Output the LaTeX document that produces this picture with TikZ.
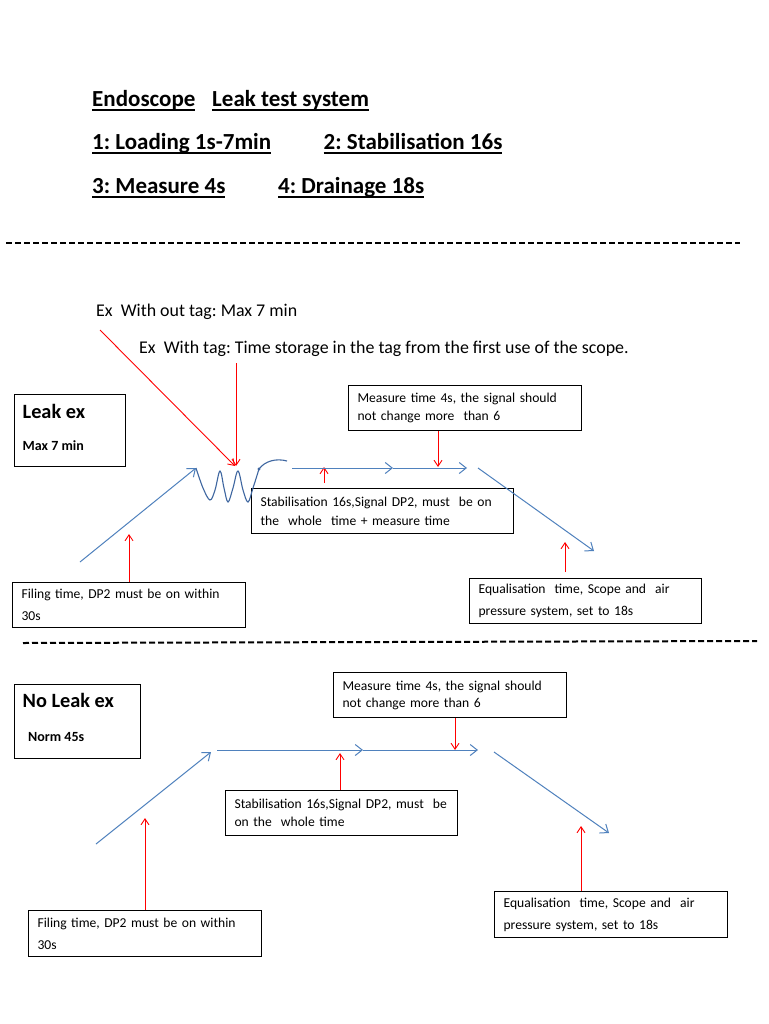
\documentclass[tikz,border=0pt]{standalone}
\usepackage{fontspec}
\setmainfont{Carlito}
\usetikzlibrary{arrows.meta,positioning,calc}
\definecolor{lineblue}{RGB}{79,129,189}
\definecolor{waveblue}{RGB}{62,102,160}
\frenchspacing
\newcommand{\headul}[1]{\setbox0\hbox{#1}\rlap{\rule[-4pt]{\wd0}{1.8pt}}\box0}
\tikzset{
	box/.style={draw=black, line width=1.1pt, anchor=north west, align=left, inner xsep=9pt, inner ysep=0pt, font=\fontsize{13.6}{18}\selectfont},
	redarrow/.style={draw=red, line width=0.9pt, -{Straight Barb[length=6pt,width=8pt]}},
	blueline/.style={draw=lineblue, line width=1pt, -{Straight Barb[length=7pt,width=11pt]}},
	dashline/.style={line width=2pt, dash pattern=on 6pt off 3pt},
	heading/.style={anchor=base west, inner sep=0pt, font=\fontsize{23}{26}\selectfont\bfseries},
	plain/.style={anchor=base west, inner sep=0pt, font=\fontsize{17.9}{20}\selectfont},
	bigtag/.style={anchor=base west, inner sep=0pt, font=\fontsize{20.3}{22}\selectfont\bfseries},
	smalltag/.style={anchor=base west, inner sep=0pt, font=\fontsize{14}{16}\selectfont\bfseries},
}

\begin{document}
\begin{tikzpicture}[x=1pt, y=-1pt]
			%%%%% START %%%%%
			\useasboundingbox[fill=white] (0,0) rectangle (768,1024);
			
			% heading
			\node[heading] (endo) at (92,107) {\headul{Endoscope}};
			\node[heading] (leaktest) at (212,107) {\headul{Leak test system}};
			\node[heading] (load) at (92,150) {\headul{1: Loading 1s-7min}};
			\node[heading] (stabil) at (323.5,150) {\headul{2: Stabilisation 16s}};
			\node[heading] (measure) at (92,194) {\headul{3: Measure 4s}};
			\node[heading] (drain) at (278,194) {\headul{4: Drainage 18s}};
			
			\draw[dashline] (6,242.5) -- (740,242.5);
			
			% leak example
			\node[plain] (notag) at (96,316) {Ex\ \ With out tag: Max 7 min};
			\node[plain] (withtag) at (139,353) {Ex\ \ With tag: Time storage in the tag from the first use of the scope.};
			
			\node[box, minimum width=111pt, minimum height=72pt] (leakbox) at (14,394) {};
			\node[bigtag] (leakex) at (22.5,418) {Leak ex};
			\node[smalltag] (maxmin) at (22.5,450) {Max 7 min};
			
			\node[box, text width=215pt, minimum height=45pt] (meas1) at (348,385) {Measure time 4s, the signal should\\not change more\ \ than 6};
			\node[box, text width=244pt, minimum height=45pt, font=\fontsize{13.6}{19}\selectfont] (stab1) at (251,488) {Stabilisation 16s,Signal DP2, must\ \ be on\\the\ \ whole\ \ time + measure time};
			\node[box, text width=215pt, minimum height=45pt, font=\fontsize{13.6}{22}\selectfont] (fill1) at (12,582) {Filing time, DP2 must be on within\\30s};
			\node[box, text width=214pt, minimum height=45pt, font=\fontsize{13.6}{22}\selectfont] (equal1) at (469,578) {Equalisation\ \ time, Scope and\ \ air\\pressure system, set to 18s};
			
			\coordinate (tagA) at (100,330);
			\coordinate (tagB) at (236,363);
			\coordinate (tipA) at (235,466);
			\coordinate (tipB) at (236,466);
			\coordinate (m1) at (438,467);
			\coordinate (s1a) at (324,483);
			\coordinate (s1b) at (324,467);
			\coordinate (f1) at (129,534);
			\coordinate (e1a) at (565,572);
			\coordinate (e1b) at (565,542);
			
			\draw[redarrow] (tagA) -- (tipA);
			\draw[redarrow] (tagB) -- (tipB);
			\draw[redarrow] (meas1.south -| m1) -- (m1);
			\draw[redarrow] (s1a) -- (s1b);
			\draw[redarrow] (fill1.north -| f1) -- (f1);
			\draw[redarrow] (e1a) -- (e1b);
			
			\coordinate (up1a) at (80,562);
			\coordinate (up1b) at (196,468);
			\coordinate (flat1a) at (292,468);
			\coordinate (flat1b) at (393,468);
			\coordinate (flat1c) at (467,468);
			\coordinate (down1a) at (478,468);
			\coordinate (down1b) at (594,551);
			
			\draw[blueline] (up1a) -- (up1b);
			\draw[waveblue, line width=1.1pt] plot[smooth, tension=0.6] coordinates {(196,468) (203,488) (210,500) (215,490) (220,471) (224,488) (228,502) (233,488) (238,471) (243,490) (248,502) (253,488) (259,469)};
			\fill[waveblue] (259,469) circle (1.6);
			\draw[waveblue, line width=1.1pt] (259,469) .. controls (265,461) and (276,458) .. (287,461);
			\draw[blueline] (flat1a) -- (flat1b);
			\draw[blueline] (flat1b) -- (flat1c);
			\draw[blueline] (down1a) -- (down1b);
			
			\draw[dashline] (23,643) -- (757,641);
			
			% no leak example
			\node[box, minimum width=126pt, minimum height=74pt] (noleakbox) at (14,684) {};
			\node[bigtag] (noleakex) at (22.5,707) {No Leak ex};
			\node[smalltag] (norm) at (28,741) {Norm 45s};
			
			\node[box, text width=215pt, minimum height=45pt, font=\fontsize{13.6}{17}\selectfont] (meas2) at (333,672) {Measure time 4s, the signal should\\not change more than 6};
			\node[box, text width=214pt, minimum height=45pt] (stab2) at (225,790) {Stabilisation 16s,Signal DP2, must\ \ be\\on the\ \ whole time};
			\node[box, text width=215pt, minimum height=46pt, font=\fontsize{13.6}{22}\selectfont] (fill2) at (28,910) {Filing time, DP2 must be on within\\30s};
			\node[box, text width=215pt, minimum height=46pt, font=\fontsize{13.6}{22}\selectfont] (equal2) at (494,891) {Equalisation\ \ time, Scope and\ \ air\\pressure system, set to 18s};
			
			\coordinate (m2) at (455,750);
			\coordinate (s2) at (340,753);
			\coordinate (f2) at (145,818);
			\coordinate (e2) at (581,826);
			
			\draw[redarrow] (meas2.south -| m2) -- (m2);
			\draw[redarrow] (stab2.north -| s2) -- (s2);
			\draw[redarrow] (fill2.north -| f2) -- (f2);
			\draw[redarrow] (equal2.north -| e2) -- (e2);
			
			\coordinate (up2a) at (96,844);
			\coordinate (up2b) at (211,752);
			\coordinate (flat2a) at (217,750);
			\coordinate (flat2b) at (363,750);
			\coordinate (flat2c) at (478,750);
			\coordinate (down2a) at (494,752);
			\coordinate (down2b) at (609,833);
			
			\draw[blueline] (up2a) -- (up2b);
			\draw[blueline] (flat2a) -- (flat2b);
			\draw[blueline] (flat2b) -- (flat2c);
			\draw[blueline] (down2a) -- (down2b);
			
			%%%%% END %%%%%
\end{tikzpicture}
\end{document}
